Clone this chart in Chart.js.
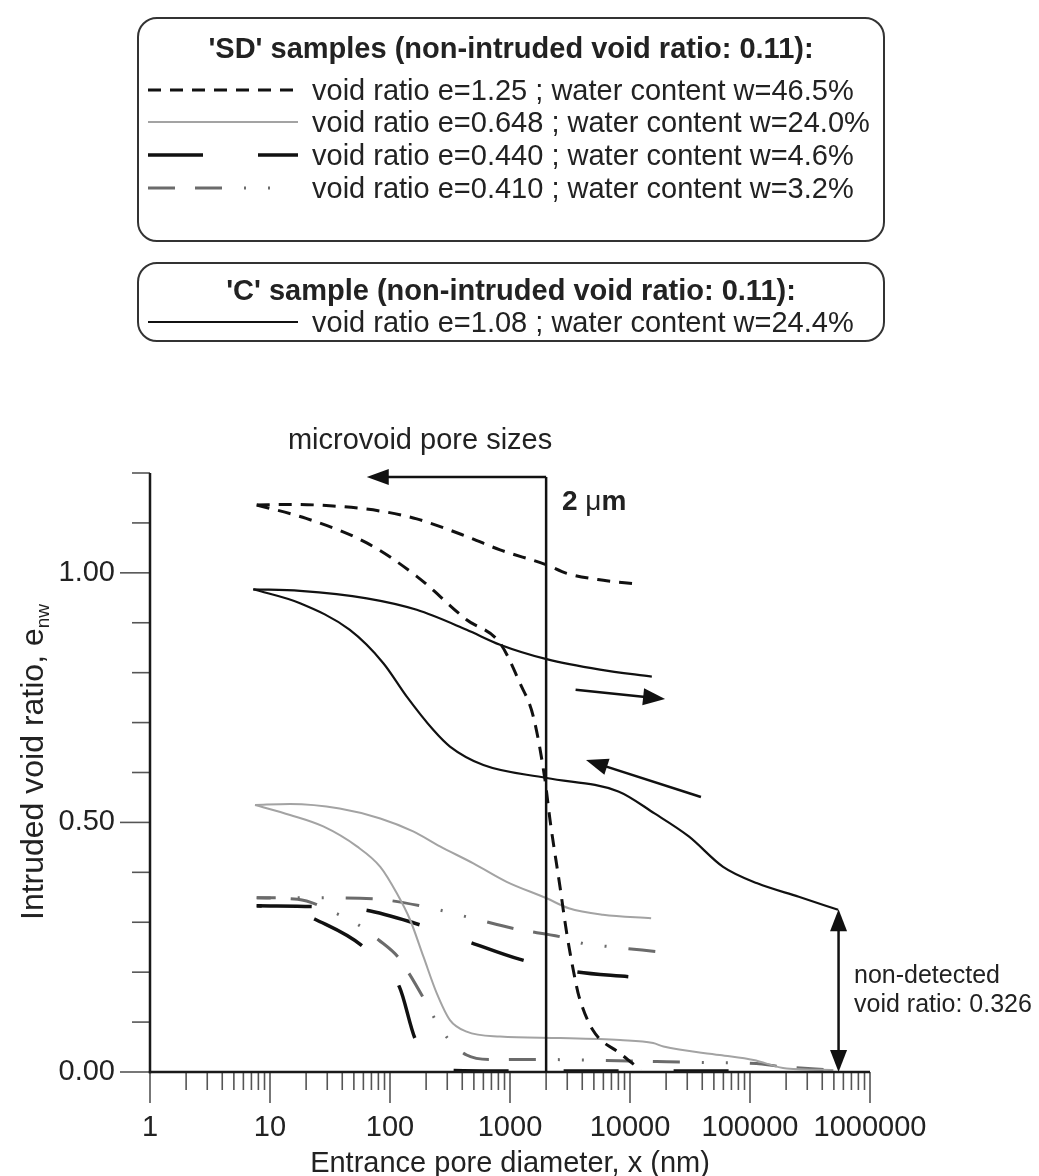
<!DOCTYPE html>
<html>
<head>
<meta charset="utf-8">
<script src="https://cdn.jsdelivr.net/npm/chart.js@4.4.1/dist/chart.umd.min.js"></script>
<style>
  html, body { margin: 0; padding: 0; background: #fff; }
  #wrap { position: relative; width: 1039px; height: 1176px; font-family: 'Liberation Sans', Arial, sans-serif; color: #222; overflow: hidden; }
  #chart { position: absolute; left: 0; top: 0; }
  .box { position: absolute; left: 137px; width: 748px; box-sizing: border-box; border: 2px solid #333; border-radius: 20px; }
  .ttl { position: absolute; left: 0; right: 0; text-align: center; font-weight: bold; font-size: 29px; line-height: 34px; white-space: nowrap; }
  .row { position: absolute; left: 0; height: 34px; line-height: 34px; font-size: 29px; white-space: nowrap; }
  .row svg { position: absolute; left: 9px; top: 0; }
  .row span { position: absolute; left: 173px; }
</style>
</head>
<body>
<div id="wrap">
  <canvas id="chart" width="1039" height="1176"></canvas>
  <div class="box" id="boxSD" style="top:17px; height:225px"></div>
  <div class="box" id="boxC" style="top:262px; height:80px"></div>
</div>
<script>
// axis ticks
const xTickValues = [1, 10, 100, 1000, 10000, 100000, 1000000];
const xTickLabels = ['1', '10', '100', '1000', '10000', '100000', '1000000'];
const yTickValues = [0, 0.5, 1.0];
const yTickLabels = ['0.00', '0.50', '1.00'];

// 'SD' e=1.25, w=46.5%   [pore diameter nm, intruded void ratio]
const sd125Intrusion = [[7.75,1.136],[20,1.109],[64,1.06],[167,0.993],[435,0.906],[826,0.859],[1210,0.779],[1565,0.712],[1958,0.585],[2155,0.505],[2610,0.371],[2970,0.278],[3590,0.171],[3760,0.151],[4900,0.084],[8300,0.037],[12300,0.004]];
const sd125Extrusion = [[7.75,1.136],[15,1.137],[33.5,1.134],[87,1.123],[167,1.108],[435,1.073],[826,1.046],[2020,1.016],[2970,0.999],[6000,0.985],[11000,0.978]];

// 'SD' e=0.648, w=24.0%
const sd0648Intrusion = [[7.5,0.535],[14.7,0.515],[27.8,0.492],[53,0.452],[83,0.411],[114,0.358],[147,0.305],[190,0.231],[245,0.158],[316,0.104],[435,0.081],[826,0.071],[2610,0.068],[8250,0.064],[15600,0.058],[19000,0.051],[56000,0.034],[107000,0.024],[202000,0.007],[495000,0.004]];
const sd0648Extrusion = [[7.5,0.535],[14.7,0.537],[38,0.528],[83,0.508],[156,0.482],[261,0.452],[495,0.418],[938,0.381],[2020,0.348],[3090,0.328],[5960,0.315],[15000,0.308]];

// 'SD' e=0.440, w=4.6%
const sd0440Intrusion = [[7.75,0.333],[14,0.33],[23.7,0.306],[59,0.252],[120,0.17],[161,0.068],[230,0.012],[337,0.003],[938,0.002],[100000,0.002]];
const sd0440Extrusion = [[7.75,0.333],[24.5,0.331],[60,0.325],[161,0.298],[450,0.261],[1196,0.226],[3480,0.201],[9680,0.191]];

// 'SD' e=0.410, w=3.2%
const sd0410Intrusion = [[7.75,0.349],[17,0.346],[37,0.316],[56,0.293],[80,0.265],[117,0.23],[147,0.194],[190,0.148],[237,0.106],[306,0.066],[435,0.034],[681,0.025],[1778,0.025],[4350,0.024],[16700,0.021],[44600,0.019],[113000,0.017],[178000,0.011],[495000,0.004]];
const sd0410Extrusion = [[7.75,0.349],[27.8,0.349],[72.6,0.347],[178,0.333],[435,0.311],[1137,0.286],[2610,0.271],[4150,0.257],[6810,0.251],[17100,0.241]];

// 'C' e=1.08, w=24.4%
const c108Intrusion = [[7.26,0.967],[17.8,0.939],[46,0.886],[88,0.819],[138,0.752],[230,0.685],[316,0.652],[600,0.615],[2020,0.589],[8000,0.562],[16000,0.518],[30900,0.472],[59700,0.411],[115000,0.378],[255000,0.351],[542000,0.325]];
const c108Extrusion = [[7.26,0.967],[17.8,0.964],[64,0.949],[167,0.926],[435,0.886],[826,0.856],[2020,0.827],[5620,0.806],[15200,0.792]];

const sdTitle = "'SD' samples (non-intruded void ratio: 0.11):";
const cTitle = "'C' sample (non-intruded void ratio: 0.11):";
const sdLabels = ['void ratio e=1.25 ; water content w=46.5%', 'void ratio e=0.648 ; water content w=24.0%', 'void ratio e=0.440 ; water content w=4.6%', 'void ratio e=0.410 ; water content w=3.2%'];
const cLabels = ['void ratio e=1.08 ; water content w=24.4%'];

const boundary = 2000;        // 2 um
const nonDetected = 0.326;

const styles = {
    sd125: { color: '#111', width: 3, dash: [13, 9] },
    sd0648: { color: '#a3a3a3', width: 2, dash: [] },
    sd0440: { color: '#111', width: 3.5, dash: [55, 55] },
    sd0410: { color: '#6b6b6b', width: 3, dash: [27, 20, 27, 22, 2, 22, 2, 22] },
    c108: { color: '#111', width: 2.2, dash: [] },
};

function ds(data, st, offset) {
    return {
        data: data,
        borderColor: st.color,
        borderWidth: st.width,
        borderDash: st.dash,
        borderDashOffset: offset || 0,
        pointRadius: 0,
        fill: false,
        cubicInterpolationMode: 'monotone',
    };
}

// legend boxes
function legendRow(top, label, st, len) {
    const dash = st.dash.length ? `stroke-dasharray="${st.dash.join(' ')}"` : '';
    return `<div class="row" style="top:${top}px"><svg width="150" height="34"><line x1="0" y1="17" x2="${len || 150}" y2="17" stroke="${st.color}" stroke-width="${st.width}" ${dash}/></svg><span>${label}</span></div>`;
}
const sdStyles = [styles.sd125, styles.sd0648, styles.sd0440, styles.sd0410];
document.getElementById('boxSD').innerHTML =
    `<div class="ttl" style="top:12px">${sdTitle}</div>` +
    sdLabels.map((l, i) => legendRow([54, 86, 119, 152][i], l, sdStyles[i], i === 3 ? 124 : 150)).join('');
document.getElementById('boxC').innerHTML =
    `<div class="ttl" style="top:9px">${cTitle}</div>` + legendRow(41, cLabels[0], styles.c108);

function arrowHead(ctx, x1, y1, x2, y2, len, half) {
    const a = Math.atan2(y2 - y1, x2 - x1);
    ctx.beginPath();
    ctx.moveTo(x2, y2);
    ctx.lineTo(x2 - len * Math.cos(a) + half * Math.sin(a), y2 - len * Math.sin(a) - half * Math.cos(a));
    ctx.lineTo(x2 - len * Math.cos(a) - half * Math.sin(a), y2 - len * Math.sin(a) + half * Math.cos(a));
    ctx.closePath();
    ctx.fill();
}
function seg(ctx, x1, y1, x2, y2) {
    ctx.beginPath(); ctx.moveTo(x1, y1); ctx.lineTo(x2, y2); ctx.stroke();
}

const overlay = {
    id: 'overlay',
    afterDraw(chart) {
        const { ctx, chartArea: a, scales: { x, y } } = chart;
        ctx.save();
        ctx.setLineDash([]);
        // ticks
        ctx.strokeStyle = '#555';
        ctx.lineWidth = 1.6;
        for (let d = 0; d < 6; d++) {
            for (let k = 2; k < 10; k++) {
                const px = x.getPixelForValue(k * Math.pow(10, d));
                seg(ctx, px, a.bottom, px, a.bottom + 18);
            }
        }
        xTickValues.forEach(v => {
            const px = x.getPixelForValue(v);
            seg(ctx, px, a.bottom, px, a.bottom + 31);
        });
        for (let i = 0; i <= 12; i++) {
            const v = i / 10;
            const py = y.getPixelForValue(v);
            const major = yTickValues.some(t => Math.abs(t - v) < 1e-9);
            seg(ctx, a.left, py, a.left - (major ? 30 : 18), py);
        }
        // axis lines
        ctx.strokeStyle = '#1a1a1a';
        ctx.lineWidth = 2.5;
        seg(ctx, a.left, a.top, a.left, a.bottom + 1.2);
        seg(ctx, a.left - 1.2, a.bottom, a.right, a.bottom);

        // 2 um boundary and arrow to the micro pores
        ctx.fillStyle = '#111';
        ctx.strokeStyle = '#111';
        ctx.lineWidth = 2.5;
        const bx = x.getPixelForValue(boundary);
        const topY = y.getPixelForValue(1.192);
        seg(ctx, bx, a.bottom, bx, topY);
        const tipX = x.getPixelForValue(64);
        seg(ctx, bx, topY, tipX + 10, topY);
        arrowHead(ctx, bx, topY, tipX, topY, 22, 8);

        // intrusion / extrusion direction arrows
        const arrows = [[[3520, 0.766], [19600, 0.747]], [[39000, 0.551], [4300, 0.625]]];
        arrows.forEach(([p, q]) => {
            const x1 = x.getPixelForValue(p[0]), y1 = y.getPixelForValue(p[1]);
            const x2 = x.getPixelForValue(q[0]), y2 = y.getPixelForValue(q[1]);
            const ang = Math.atan2(y2 - y1, x2 - x1);
            seg(ctx, x1, y1, x2 - 10 * Math.cos(ang), y2 - 10 * Math.sin(ang));
            arrowHead(ctx, x1, y1, x2, y2, 22, 8.5);
        });

        // non-detected void ratio
        const nx = x.getPixelForValue(547000);
        const ny0 = y.getPixelForValue(0), ny1 = y.getPixelForValue(nonDetected);
        seg(ctx, nx, ny0 - 10, nx, ny1 + 10);
        arrowHead(ctx, nx, ny1, nx, ny0, 22, 8.5);
        arrowHead(ctx, nx, ny0, nx, ny1, 22, 8.5);

        // texts
        ctx.fillStyle = '#222';
        ctx.textBaseline = 'alphabetic';
        ctx.font = "29px 'Liberation Sans', Arial, sans-serif";
        ctx.textAlign = 'center';
        ctx.fillText('microvoid pore sizes', x.getPixelForValue(178), y.getPixelForValue(1.248));

        ctx.textAlign = 'left';
        let tx = x.getPixelForValue(2710);
        const ty = y.getPixelForValue(1.126);
        ctx.font = "bold 28px 'Liberation Sans', Arial, sans-serif";
        ctx.fillText('2 ', tx, ty);
        tx += ctx.measureText('2 ').width;
        ctx.font = "28px 'Liberation Sans', Arial, sans-serif";
        ctx.fillText('\u03bc', tx, ty);
        tx += ctx.measureText('\u03bc').width;
        ctx.font = "bold 28px 'Liberation Sans', Arial, sans-serif";
        ctx.fillText('m', tx, ty);

        ctx.font = "25px 'Liberation Sans', Arial, sans-serif";
        const lx = x.getPixelForValue(736000);
        ctx.fillText('non-detected', lx, y.getPixelForValue(0.178));
        ctx.fillText('void ratio: ' + nonDetected.toFixed(3), lx, y.getPixelForValue(0.120));

        // y axis title with subscript
        ctx.translate(43, 762);
        ctx.rotate(-Math.PI / 2);
        const main = 'Intruded void ratio, e';
        ctx.font = "32px 'Liberation Sans', Arial, sans-serif";
        const w1 = ctx.measureText(main).width;
        ctx.font = "19px 'Liberation Sans', Arial, sans-serif";
        const w2 = ctx.measureText('nw').width;
        const start = -(w1 + w2) / 2;
        ctx.font = "32px 'Liberation Sans', Arial, sans-serif";
        ctx.fillText(main, start, 0);
        ctx.font = "19px 'Liberation Sans', Arial, sans-serif";
        ctx.fillText('nw', start + w1, 6);
        ctx.restore();
    }
};

Chart.defaults.font.family = "'Liberation Sans', Arial, sans-serif";
Chart.defaults.color = '#222';

new Chart(document.getElementById('chart'), {
    type: 'line',
    data: {
        datasets: [
            ds(sd125Intrusion, styles.sd125), ds(sd125Extrusion, styles.sd125),
            ds(sd0648Intrusion, styles.sd0648), ds(sd0648Extrusion, styles.sd0648),
            ds(sd0440Intrusion, styles.sd0440, 50), ds(sd0440Extrusion, styles.sd0440),
            ds(sd0410Intrusion, styles.sd0410, 13), ds(sd0410Extrusion, styles.sd0410, 55),
            ds(c108Intrusion, styles.c108), ds(c108Extrusion, styles.c108),
        ]
    },
    options: {
        responsive: false,
        animation: false,
        layout: { padding: { left: 0, top: 473, right: 169, bottom: 0 } },
        plugins: { legend: { display: false }, tooltip: { enabled: false } },
        scales: {
            x: {
                type: 'logarithmic',
                min: 1,
                max: 1000000,
                grid: { display: false },
                border: { display: false },
                afterBuildTicks: s => { s.ticks = xTickValues.map(v => ({ value: v })); },
                afterFit: s => { s.height = 104; },
                ticks: {
                    padding: 31,
                    autoSkip: false,
                    maxRotation: 0,
                    font: { size: 29 },
                    callback: (v, i) => xTickLabels[i],
                },
                title: {
                    display: true,
                    text: 'Entrance pore diameter, x (nm)',
                    font: { size: 29, lineHeight: 0.8 },
                    padding: 0,
                },
            },
            y: {
                min: 0,
                max: 1.2,
                grid: { display: false },
                border: { display: false },
                afterBuildTicks: s => { s.ticks = yTickValues.map(v => ({ value: v })); },
                afterFit: s => { s.width = 150; },
                ticks: {
                    padding: 27,
                    font: { size: 29 },
                    callback: (v, i) => yTickLabels[i],
                },
            },
        },
    },
    plugins: [overlay],
});
</script>
</body>
</html>
